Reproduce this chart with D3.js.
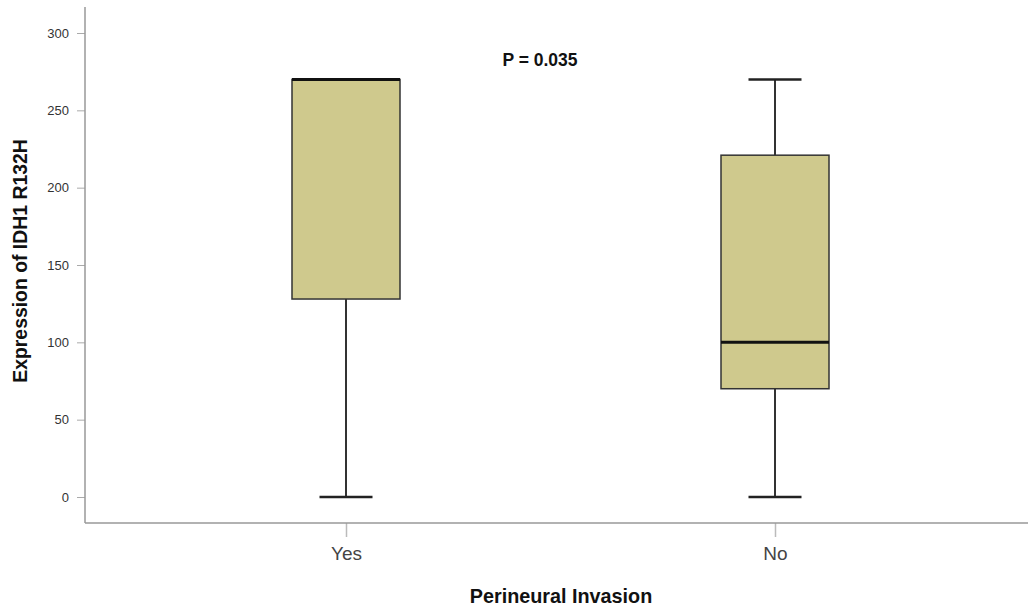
<!DOCTYPE html>
<html>
<head>
<meta charset="utf-8">
<script src="https://cdn.jsdelivr.net/npm/d3@7"></script>
<style>
  body { margin: 0; background: #fff; }
  svg { display: block; font-family: "Liberation Sans", Arial, sans-serif; }
</style>
</head>
<body>
<svg id="chart" width="1028" height="609"></svg>
<script>
"use strict";
// box plot values
const categories = ["Yes", "No"];
const minValues = [0, 0];
const q1Values = [128, 70];
const medianValues = [270, 100];
const q3Values = [270, 221];
const maxValues = [270, 270];
const yTicks = [0, 50, 100, 150, 200, 250, 300];
const pLabel = "P = 0.035";

const svg = d3.select("#chart");
const width = +svg.attr("width");

const plot = { left: 85, bottom: 523, top: 7 };

const y = d3.scaleLinear().domain([0, 300]).range([497, 33]);
const x = d3.scalePoint().domain(categories).range([346, 775]);

const boxWidth = 108;
const capWidth = 53;

// y axis
const yAxis = d3.axisLeft(y).tickValues(yTicks).tickSize(8).tickPadding(8);
const gy = svg.append("g")
    .attr("transform", `translate(${plot.left},0)`)
    .call(yAxis);
gy.select(".domain").remove();
gy.selectAll(".tick line").attr("stroke", "#aaa");
gy.selectAll(".tick text").attr("fill", "#333").style("font-size", "13px");
svg.append("line")
    .attr("x1", plot.left).attr("x2", plot.left)
    .attr("y1", plot.top).attr("y2", plot.bottom)
    .attr("stroke", "#999").attr("stroke-width", 1.5);

// x axis
const xAxis = d3.axisBottom(x).tickSize(14).tickPadding(10);
const gx = svg.append("g")
    .attr("transform", `translate(0,${plot.bottom})`)
    .call(xAxis);
gx.select(".domain").remove();
gx.selectAll(".tick line").attr("stroke", "#bbb").attr("stroke-width", 1.5);
gx.selectAll(".tick text").attr("fill", "#444").style("font-size", "19px");
svg.append("line")
    .attr("x1", plot.left).attr("x2", width)
    .attr("y1", plot.bottom).attr("y2", plot.bottom)
    .attr("stroke", "#999").attr("stroke-width", 1.5);

// boxes
const boxes = svg.append("g").attr("class", "boxes");
categories.forEach((c, i) => {
  const cx = x(c);
  const g = boxes.append("g");
  // whiskers
  g.append("line")
      .attr("x1", cx).attr("x2", cx)
      .attr("y1", y(q1Values[i])).attr("y2", y(minValues[i]))
      .attr("stroke", "#333").attr("stroke-width", 2);
  g.append("line")
      .attr("x1", cx).attr("x2", cx)
      .attr("y1", y(q3Values[i])).attr("y2", y(maxValues[i]))
      .attr("stroke", "#333").attr("stroke-width", 2);
  // caps
  [minValues[i], maxValues[i]].forEach(v => {
    if (v === q1Values[i] || v === q3Values[i]) return;
    g.append("line")
        .attr("x1", cx - capWidth / 2).attr("x2", cx + capWidth / 2)
        .attr("y1", y(v)).attr("y2", y(v))
        .attr("stroke", "#222").attr("stroke-width", 2.5);
  });
  // box
  g.append("rect")
      .attr("x", cx - boxWidth / 2)
      .attr("y", y(q3Values[i]))
      .attr("width", boxWidth)
      .attr("height", y(q1Values[i]) - y(q3Values[i]))
      .attr("fill", "#CFC98D")
      .attr("stroke", "#333").attr("stroke-width", 1.5);
  // median
  g.append("line")
      .attr("x1", cx - boxWidth / 2).attr("x2", cx + boxWidth / 2)
      .attr("y1", y(medianValues[i])).attr("y2", y(medianValues[i]))
      .attr("stroke", "#111").attr("stroke-width", 3);
});

// p value
svg.append("text")
    .attr("x", 540).attr("y", 66)
    .attr("text-anchor", "middle")
    .style("font-size", "17.5px").style("font-weight", "bold")
    .attr("fill", "#111")
    .text(pLabel);

// axis titles
svg.append("text")
    .attr("x", 561).attr("y", 603)
    .attr("text-anchor", "middle")
    .style("font-size", "19.8px").style("font-weight", "bold")
    .attr("fill", "#111")
    .text("Perineural Invasion");

svg.append("text")
    .attr("transform", "translate(27,261) rotate(-90)")
    .attr("text-anchor", "middle")
    .style("font-size", "19.4px").style("font-weight", "bold")
    .attr("fill", "#111")
    .text("Expression of IDH1 R132H");
</script>
</body>
</html>
